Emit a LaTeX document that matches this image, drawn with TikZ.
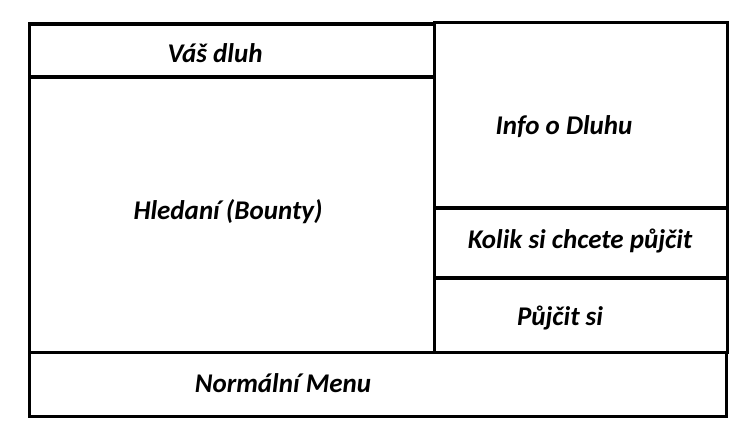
\documentclass[tikz,border=0pt]{standalone}
\usepackage{fontspec}
\setmainfont{Carlito}
\begin{document}
\begin{tikzpicture}[x=1pt,y=-1pt,
  boxline/.style={draw=black,line width=3.6pt},
  lbl/.style={font=\fontsize{27}{32}\selectfont\bfseries\itshape,inner sep=0pt}]
\useasboundingbox (0,0) rectangle (740,429);
% left column
\draw[boxline] (29.5,24) rectangle (434.5,77);
\draw[boxline] (29.5,77) -- (29.5,352.5);
% right column
\draw[boxline] (434.5,22.5) rectangle (727.5,208);
\draw[boxline] (434.5,208) rectangle (727.5,278);
\draw[boxline] (434.5,278) rectangle (727.5,352.5);
% bottom
\draw[boxline] (29.5,352.5) rectangle (726.5,416.5);
% labels
\node[lbl] (vas) at (215,53) {Váš dluh};
\node[lbl] (hled) at (228,212) {Hledaní (Bounty)};
\node[lbl] (info) at (564,127) {Info o Dluhu};
\node[lbl] (kolik) at (580,241) {Kolik si chcete půjčit};
\node[lbl] (pujc) at (560,318) {Půjčit si};
\node[lbl] (menu) at (283,383) {Normální Menu};
\end{tikzpicture}
\end{document}
